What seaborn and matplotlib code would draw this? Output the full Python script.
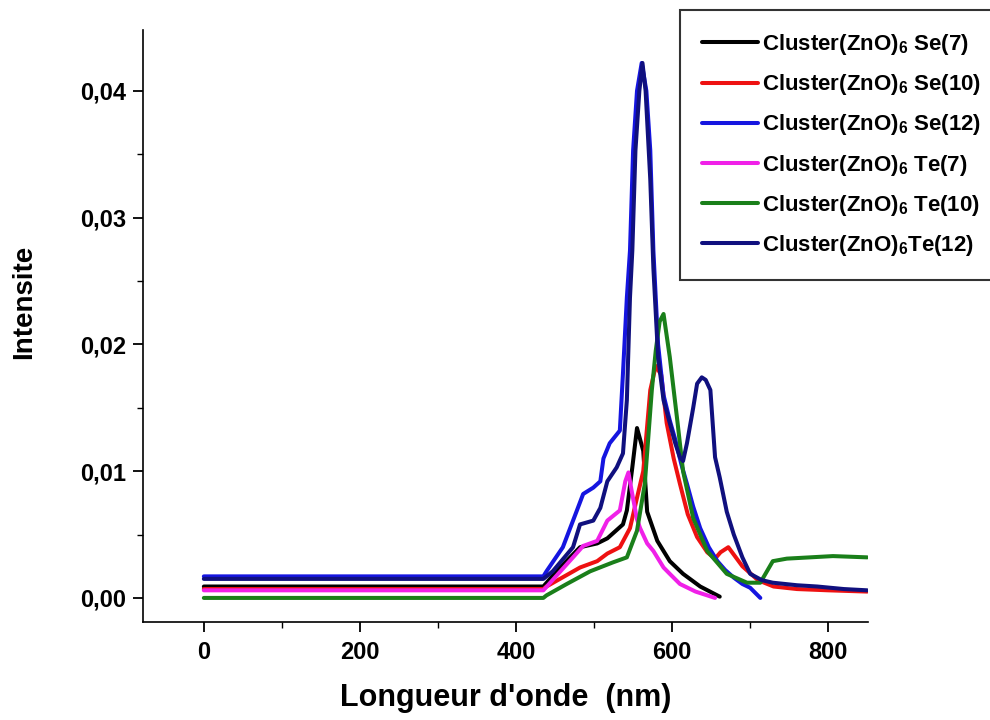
import numpy as np
import seaborn as sns
import pandas as pd
import matplotlib.pyplot as plt
import matplotlib.ticker as ticker

#------------------------------------------------------------------------------#
'''
Spectres d'absorption des clusters (ZnO)6 dopes Se / Te.
'''
#------------------------------------------------------------------------------#

# Cluster(ZnO)6 Se(7)
se7_x = [0, 435, 452, 482, 504, 517, 537, 542, 549, 555, 563, 568, 581, 597,
         614, 636, 661]
se7_y = [0.0009, 0.0009, 0.0021, 0.0040, 0.0043, 0.0047, 0.0058, 0.0069, 0.0103,
         0.0134, 0.0116, 0.0068, 0.0045, 0.0029, 0.0019, 0.0009, 0.0001]

# Cluster(ZnO)6 Se(10)
se10_x = [0, 435, 439, 482, 504, 517, 533, 546, 555, 563, 572, 579, 586, 593,
          602, 610, 620, 632, 645, 655, 662, 672, 690, 710, 730, 760, 800, 850]
se10_y = [0.0007, 0.0007, 0.0009, 0.0024, 0.0029, 0.0035, 0.0040, 0.0055, 0.0079,
          0.0100, 0.0164, 0.0183, 0.0176, 0.0138, 0.0110, 0.0090, 0.0066, 0.0048,
          0.0036, 0.0031, 0.0036, 0.0040, 0.0025, 0.0014, 0.0009, 0.0007, 0.0006,
          0.0005]

# Cluster(ZnO)6 Se(12)
se12_x = [0, 435, 439, 460, 478, 486, 499, 508, 512, 520, 533, 537, 542, 546,
          550, 555, 561, 567, 572, 576, 582, 589, 597, 604, 612, 619, 627, 636,
          647, 658, 668, 679, 690, 700, 713]
se12_y = [0.0017, 0.0017, 0.0021, 0.0040, 0.0069, 0.0082, 0.0087, 0.0092, 0.0110,
          0.0122, 0.0132, 0.0177, 0.0237, 0.0274, 0.0353, 0.0400, 0.0422, 0.0400,
          0.0353, 0.0274, 0.0200, 0.0160, 0.0140, 0.0125, 0.0105, 0.0090, 0.0072,
          0.0055, 0.0040, 0.0029, 0.0022, 0.0016, 0.0011, 0.0008, 0.0000]

# Cluster(ZnO)6 Te(7)
te7_x = [0, 435, 473, 486, 504, 517, 533, 540, 544, 548, 555, 559, 568, 576,
         589, 597, 610, 630, 655]
te7_y = [0.0006, 0.0006, 0.0032, 0.0041, 0.0045, 0.0061, 0.0069, 0.0092, 0.0099,
         0.0085, 0.0062, 0.0055, 0.0043, 0.0037, 0.0024, 0.0019, 0.0011, 0.0005,
         0.0000]

# Cluster(ZnO)6 Te(10)
te10_x = [0, 435, 439, 465, 495, 524, 542, 555, 565, 574, 579, 584, 589, 597,
          607, 614, 627, 645, 670, 696, 713, 729, 747, 806, 850]
te10_y = [0.0000, 0.0000, 0.0002, 0.0011, 0.0021, 0.0028, 0.0032, 0.0053, 0.0090,
          0.0164, 0.0195, 0.0218, 0.0224, 0.0190, 0.0138, 0.0100, 0.0063, 0.0037,
          0.0019, 0.0012, 0.0012, 0.0029, 0.0031, 0.0033, 0.0032]

# Cluster(ZnO)6 Te(12)
te12_x = [0, 435, 447, 473, 482, 499, 508, 517, 529, 537, 542, 546, 549, 553,
          558, 562, 566, 572, 576, 582, 589, 597, 604, 610, 614, 619, 627, 632,
          638, 643, 649, 655, 661, 670, 679, 690, 700, 715, 729, 760, 786, 820, 850]
te12_y = [0.0015, 0.0015, 0.0021, 0.0040, 0.0058, 0.0061, 0.0071, 0.0092, 0.0103,
          0.0114, 0.0156, 0.0237, 0.0274, 0.0353, 0.0400, 0.0422, 0.0400, 0.0330,
          0.0260, 0.0190, 0.0156, 0.0138, 0.0122, 0.0111, 0.0108, 0.0122, 0.0150,
          0.0169, 0.0174, 0.0172, 0.0164, 0.0111, 0.0095, 0.0068, 0.0050, 0.0032,
          0.0019, 0.0014, 0.0012, 0.0010, 0.0009, 0.0007, 0.0006]

labels = [r'Cluster(ZnO)$_{6}$ Se(7)', r'Cluster(ZnO)$_{6}$ Se(10)',
          r'Cluster(ZnO)$_{6}$ Se(12)', r'Cluster(ZnO)$_{6}$ Te(7)',
          r'Cluster(ZnO)$_{6}$ Te(10)', r'Cluster(ZnO)$_{6}$Te(12)']
colors = ['#000000', '#ee1111', '#1515e0', '#f020e8', '#1a7f1a', '#10107e']

#------------------------------------------------------------------------------#

def comma_fmt(v, pos):
    return ('%.2f' % v).replace('.', ',')

def main():

    sns.set_theme(style='ticks')
    plt.rcParams['font.family'] = ['Liberation Sans', 'DejaVu Sans']
    plt.rcParams['font.weight'] = 'bold'
    plt.rcParams['mathtext.fontset'] = 'custom'
    plt.rcParams['mathtext.rm'] = 'Liberation Sans:bold'
    plt.rcParams['mathtext.bf'] = 'Liberation Sans:bold'
    plt.rcParams['mathtext.default'] = 'rm'
    for k in ['text.color', 'axes.labelcolor', 'xtick.color', 'ytick.color',
              'axes.edgecolor']:
        plt.rcParams[k] = 'black'

    fig = plt.figure(figsize=(9.9, 7.2), dpi=100)
    ax = fig.add_axes([0.1444, 0.1361, 0.7324, 0.8222])

    series = [(se7_x, se7_y), (se10_x, se10_y), (se12_x, se12_y),
              (te7_x, te7_y), (te10_x, te10_y), (te12_x, te12_y)]

    for (xs, ys), lab, col in zip(series, labels, colors):
        df = pd.DataFrame({'x': xs, 'y': ys})
        sns.lineplot(data=df, x='x', y='y', ax=ax, color=col, lw=2.9,
                     label=lab, estimator=None, sort=False)

    ax.set_xlim(-78, 851)
    ax.set_ylim(-0.0019, 0.0448)

    ax.xaxis.set_major_locator(ticker.MultipleLocator(200))
    ax.xaxis.set_minor_locator(ticker.MultipleLocator(100))
    ax.yaxis.set_major_locator(ticker.MultipleLocator(0.01))
    ax.yaxis.set_minor_locator(ticker.MultipleLocator(0.005))
    ax.yaxis.set_major_formatter(ticker.FuncFormatter(comma_fmt))

    ax.tick_params(axis='both', which='major', direction='out', length=7,
                   width=1.3, labelsize=17, color='black')
    ax.tick_params(axis='both', which='minor', direction='out', length=4,
                   width=1.0, color='black')
    ax.tick_params(axis='x', which='major', pad=7)
    ax.tick_params(axis='y', which='major', pad=5)

    sns.despine(ax=ax)
    for s in ['left', 'bottom']:
        ax.spines[s].set_linewidth(1.2)
        ax.spines[s].set_color('black')

    ax.set_xlabel("Longueur d'onde  (nm)", fontsize=22, fontweight='bold',
                  labelpad=13)
    ax.set_ylabel('Intensite', fontsize=20, fontweight='bold')
    ax.yaxis.set_label_coords(-0.146, 0.54)

    leg = ax.legend(loc='upper left', bbox_to_anchor=(680 / 990, 1 - 10 / 720),
                    bbox_transform=fig.transFigure, fontsize=16, frameon=True,
                    fancybox=False, borderpad=1.0, borderaxespad=0,
                    handlelength=2.5, handletextpad=0.2, labelspacing=0.68)
    leg.get_frame().set_edgecolor('black')
    leg.get_frame().set_linewidth(1.5)
    for line in leg.get_lines():
        line.set_linewidth(2.9)

    fig.savefig('out.png', dpi=100)

if __name__ == '__main__':
    main()
